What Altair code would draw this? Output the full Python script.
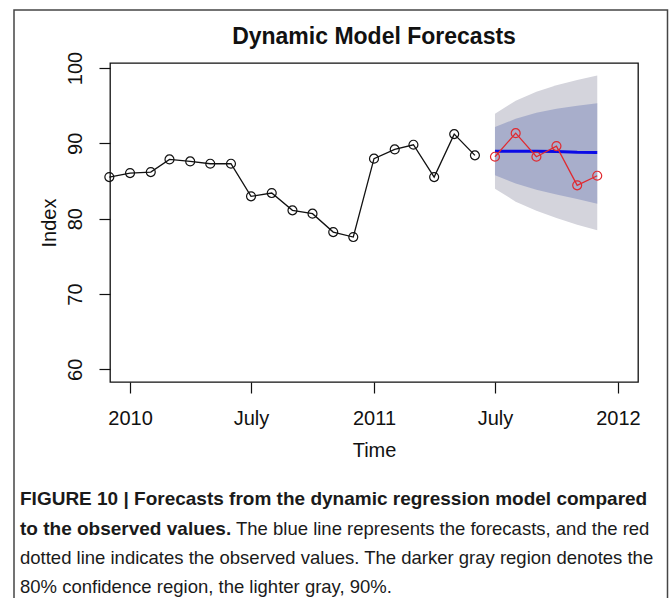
import altair as alt
import pandas as pd

# ---- data -------------------------------------------------------------
# observed monthly index, Dec 2009 - Jun 2011
obs_months = [
    "2009-12-01", "2010-01-01", "2010-02-01", "2010-03-01", "2010-04-01",
    "2010-05-01", "2010-06-01", "2010-07-01", "2010-08-01", "2010-09-01",
    "2010-10-01", "2010-11-01", "2010-12-01", "2011-01-01", "2011-02-01",
    "2011-03-01", "2011-04-01", "2011-05-01", "2011-06-01",
]
obs_index = [
    85.52, 86.05, 86.18, 87.86, 87.60, 87.29, 87.29, 82.96, 83.40, 81.10,
    80.66, 78.22, 77.56, 87.96, 89.19, 89.81, 85.52, 91.22, 88.40,
]

# forecast horizon, Jul 2011 - Dec 2011
fc_months = ["2011-07-01", "2011-08-01", "2011-09-01",
             "2011-10-01", "2011-11-01", "2011-12-01"]
actual = [88.22, 91.35, 88.22, 89.63, 84.42, 85.70]
forecast = [88.95, 88.95, 88.95, 88.90, 88.80, 88.78]
lo80 = [85.75, 84.65, 83.85, 83.20, 82.60, 81.99]
hi80 = [92.15, 93.25, 94.05, 94.60, 95.00, 95.33]
lo90 = [83.98, 82.25, 81.05, 80.10, 79.20, 78.45]
hi90 = [93.92, 95.65, 96.85, 97.70, 98.40, 98.99]

tick_dates = ["2010-01-01", "2010-07-01", "2011-01-01", "2011-07-01", "2012-01-01"]
y_ticks = [60, 70, 80, 90, 100]

chart_title = "Dynamic Model Forecasts"
caption_1 = "FIGURE 10 | Forecasts from the dynamic regression model compared"
caption_2a = "to the observed values."
caption_2b = "The blue line represents the forecasts, and the red"
caption_3 = "dotted line indicates the observed values. The darker gray region denotes the"
caption_4 = "80% confidence region, the lighter gray, 90%."

# ---- layout -----------------------------------------------------------
FONT = "Liberation Sans, Arial, Helvetica, sans-serif"
W, H = 528, 319


def ms(d):
    return int(pd.Timestamp(d, tz="UTC").value // 10**6)


obs_df = pd.DataFrame({"month": obs_months, "value": obs_index})
fc_df = pd.DataFrame({
    "month": fc_months, "actual": actual, "forecast": forecast,
    "lo80": lo80, "hi80": hi80, "lo90": lo90, "hi90": hi90,
})

x_scale = alt.Scale(type="utc", domain=[ms("2009-12-02"), ms("2012-01-31")], nice=False)
y_scale = alt.Scale(domain=[58.32, 100.66], nice=False, zero=False)

x_axis = alt.Axis(
    values=[ms(d) for d in tick_dates],
    labelExpr="utcmonth(datum.value) == 6 ? 'July' : utcFormat(datum.value, '%Y')",
    title="Time", grid=False, domain=False,
    tickSize=11, tickColor="#111", tickWidth=1.2,
    labelFont=FONT, labelFontSize=20, labelColor="#111",
    labelAlign="center", labelBaseline="alphabetic", labelPadding=31,
    labelFlush=False, labelOverlap=False,
    titleFont=FONT, titleFontSize=20, titleFontWeight="normal", titleColor="#111",
    titleX=264, titleY=74, titleAlign="center", titleBaseline="alphabetic",
)
y_axis = alt.Axis(
    values=y_ticks, title="Index", grid=False, domain=False,
    tickSize=11, tickColor="#111", tickWidth=1.2,
    labelFont=FONT, labelFontSize=20, labelColor="#111",
    labelAngle=-90, labelAlign="center", labelBaseline="alphabetic", labelPadding=18,
    labelOverlap=False,
    titleFont=FONT, titleFontSize=20, titleFontWeight="normal", titleColor="#111",
    titleAngle=-90, titleX=-55, titleY=H / 2, titleAlign="center", titleBaseline="alphabetic",
)


def xe():
    return alt.X("month:T", scale=x_scale, axis=x_axis)


def ye(field):
    return alt.Y(f"{field}:Q", scale=y_scale, axis=y_axis)


band90 = alt.Chart(fc_df).mark_area(color="#D4D4DC", opacity=1).encode(
    x=xe(), y=ye("lo90"), y2="hi90:Q")
band80 = alt.Chart(fc_df).mark_area(color="#A8AECB", opacity=1).encode(
    x=xe(), y=ye("lo80"), y2="hi80:Q")

obs_line = alt.Chart(obs_df).mark_line(color="#111", strokeWidth=1.3).encode(
    x=xe(), y=ye("value"))
obs_pts = alt.Chart(obs_df).mark_point(
    shape="circle", filled=False, size=80, color="#111", strokeWidth=1.2, opacity=1
).encode(x=xe(), y=ye("value"))

fc_line = alt.Chart(fc_df).mark_line(color="#0A0AE6", strokeWidth=3).encode(
    x=xe(), y=ye("forecast"))

act_line = alt.Chart(fc_df).mark_line(color="#E02A30", strokeWidth=1.3).encode(
    x=xe(), y=ye("actual"))
act_pts = alt.Chart(fc_df).mark_point(
    shape="circle", filled=False, size=80, color="#E02A30", strokeWidth=1.2, opacity=1
).encode(x=xe(), y=ye("actual"))

# outer figure border, title and caption, placed relative to the plot origin
one = alt.Data(values=[{"k": 0}])
frame = alt.Chart(one).mark_rect(
    fill="transparent", stroke="#454545", strokeWidth=1.5
).encode(x=alt.value(-96), x2=alt.value(557.5), y=alt.value(-53), y2=alt.value(560))

title = alt.Chart(one).mark_text(
    text=chart_title, font=FONT, fontSize=23, fontWeight="bold",
    align="center", baseline="alphabetic", color="#111",
).encode(x=alt.value(264), y=alt.value(-19))


def caption(text, x, y, bold):
    return alt.Chart(one).mark_text(
        text=text, font=FONT, fontSize=19 if bold else 18.5,
        fontWeight="bold" if bold else "normal",
        align="left", baseline="alphabetic", color="#1a1a1a",
    ).encode(x=alt.value(x), y=alt.value(y))


captions = [
    caption(caption_1, -90, 442, True),
    caption(caption_2a, -90, 472, True),
    caption(caption_2b, 126, 472, False),
    caption(caption_3, -90, 501, False),
    caption(caption_4, -90, 530, False),
]

chart = alt.layer(
    frame, band90, band80, obs_line, obs_pts, fc_line, act_line, act_pts, title, *captions
).properties(
    width=W, height=H,
    padding={"left": 110, "top": 63, "right": 32, "bottom": 216},
    autosize="none",
    background="white",
).configure_view(
    stroke="#111", strokeWidth=1.3
)

chart.save("out.html", embed_options={"renderer": "svg", "actions": False})
